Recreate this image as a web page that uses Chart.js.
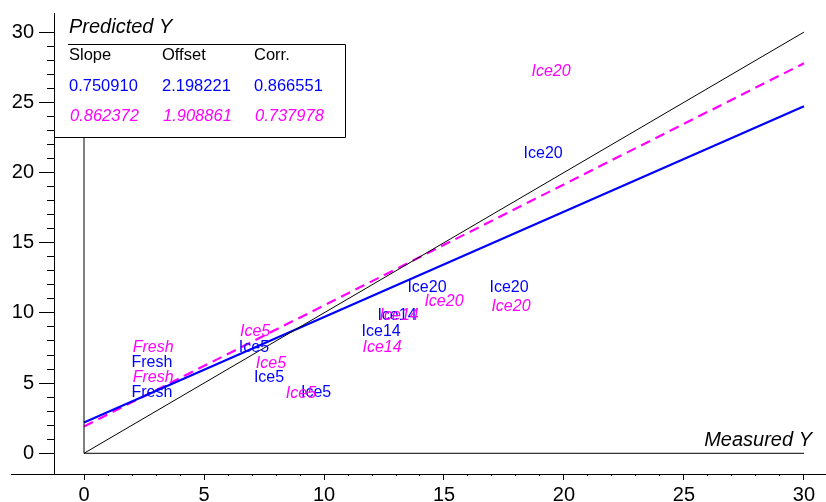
<!DOCTYPE html>
<html><head><meta charset="utf-8">
<script src="https://cdn.jsdelivr.net/npm/chart.js@4.4.0/dist/chart.umd.min.js"></script>
<style>html,body{margin:0;padding:0;background:#fff;}</style>
</head><body>
<canvas id="c" width="826" height="502"></canvas>
<script>
// ---- data ----
const blueLabels = ['Fresh','Fresh','Ice5','Ice5','Ice5','Ice14','Ice14','Ice20','Ice20','Ice20'];
const blueMeasured = [2.83, 2.83, 7.08, 7.71, 9.67, 13.04, 12.38, 14.29, 17.71, 19.13];
const bluePredicted = [6.57, 4.44, 7.64, 5.51, 4.44, 9.92, 8.78, 11.92, 11.92, 21.46];

const magentaLabels = ['Fresh','Fresh','Ice5','Ice5','Ice5','Ice14','Ice14','Ice20','Ice20','Ice20'];
const magentaMeasured = [2.88, 2.88, 7.13, 7.79, 9.04, 13.13, 12.42, 15.00, 17.79, 19.46];
const magentaPredicted = [7.71, 5.51, 8.78, 6.57, 4.37, 9.92, 7.64, 10.92, 10.63, 27.30];

const statHeaders = ['Slope', 'Offset', 'Corr.'];
const blueStats = [0.750910, 2.198221, 0.866551];
const magentaStats = [0.862372, 1.908861, 0.737978];

const xTickValues = [0, 5, 10, 15, 20, 25, 30];
const yTickValues = [0, 5, 10, 15, 20, 25, 30];
const xMinorTickValues = [0,1,2,3,4,5,6,7,8,9,10,11,12,13,14,15,16,17,18,19,20,21,22,23,24,25,26,27,28,29,30];
const yMinorTickValues = [0,1,2,3,4,5,6,7,8,9,10,11,12,13,14,15,16,17,18,19,20,21,22,23,24,25,26,27,28,29,30];
const lineRange = [0, 30];

// ---- layout ----
const X_MIN = -3.042, X_MAX = 30.917, Y_MIN = -1.474, Y_MAX = 31.36, Y_AXIS_AT = -1.2375, Y_LABELS_AT = -2.083;
const BLUE = '#0000ff', MAGENTA = '#ff00ff';
const FONT = "'Liberation Sans', Arial, sans-serif";

const pts = (xs, ys) => xs.map((x, i) => ({x: x, y: ys[i]}));
const fitLine = (s) => lineRange.map(x => ({x: x, y: s[0] * x + s[1]}));

const pointLabelPlugin = {
  id: 'pointLabelPlugin',
  afterDatasetsDraw(chart) {
    const ctx = chart.ctx;
    chart.data.datasets.forEach((ds, i) => {
      if (!ds.pointLabels) return;
      const meta = chart.getDatasetMeta(i);
      ctx.save();
      ctx.font = ds.labelFont;
      ctx.fillStyle = ds.labelColor;
      ctx.textAlign = 'center';
      ctx.textBaseline = 'middle';
      meta.data.forEach((el, j) => ctx.fillText(ds.pointLabels[j], el.x, el.y + 2));
      ctx.restore();
    });
  }
};

const boxPlugin = {
  id: 'boxPlugin',
  afterDraw(chart) {
    const ctx = chart.ctx;
    ctx.save();
    // axis titles
    ctx.fillStyle = '#000';
    ctx.font = 'italic 20px ' + FONT;
    ctx.textBaseline = 'middle';
    ctx.textAlign = 'left';
    ctx.fillText('Predicted Y', 69, 27);
    ctx.textAlign = 'right';
    ctx.fillText('Measured Y', 812, 440);
    // stats box
    const L = 55, T = 44, R = 345, B = 137;
    ctx.fillStyle = '#fff';
    ctx.fillRect(L, T, R - L, B - T);
    ctx.strokeStyle = '#000';
    ctx.lineWidth = 1;
    ctx.beginPath();
    ctx.moveTo(68, T + 0.5);
    ctx.lineTo(R + 0.5, T + 0.5);
    ctx.lineTo(R + 0.5, B + 0.5);
    ctx.lineTo(L, B + 0.5);
    ctx.stroke();
    const cols = [69, 162, 254];
    ctx.textAlign = 'left';
    ctx.font = '16.5px ' + FONT;
    ctx.fillStyle = '#000';
    statHeaders.forEach((h, i) => ctx.fillText(h, cols[i], 55));
    ctx.fillStyle = BLUE;
    blueStats.forEach((v, i) => ctx.fillText(v.toFixed(6), cols[i], 86));
    ctx.font = 'italic 16.5px ' + FONT;
    ctx.fillStyle = MAGENTA;
    magentaStats.forEach((v, i) => ctx.fillText(v.toFixed(6), cols[i] + 1, 116));
    ctx.restore();
  }
};

const tickFont = {family: FONT, size: 20};
const hiddenTicks = {display: false};

new Chart(document.getElementById('c'), {
  type: 'scatter',
  data: {
    datasets: [
      {data: [{x: 0, y: 0}, {x: 30, y: 30}], showLine: true, borderColor: '#000', borderWidth: 1, pointRadius: 0},
      {data: [{x: 0, y: 0}, {x: 30, y: 0}], showLine: true, borderColor: '#000', borderWidth: 1, pointRadius: 0},
      {data: [{x: 0, y: 0}, {x: 0, y: 25}], showLine: true, borderColor: '#000', borderWidth: 1, pointRadius: 0},
      {data: fitLine(blueStats), showLine: true, borderColor: BLUE, borderWidth: 2.2, pointRadius: 0},
      {data: fitLine(magentaStats), showLine: true, borderColor: MAGENTA, borderWidth: 2.2, borderDash: [10, 6], pointRadius: 0},
      {data: pts(blueMeasured, bluePredicted), pointRadius: 0, pointLabels: blueLabels, labelColor: BLUE, labelFont: '16px ' + FONT},
      {data: pts(magentaMeasured, magentaPredicted), pointRadius: 0, pointLabels: magentaLabels, labelColor: MAGENTA, labelFont: 'italic 16px ' + FONT}
    ]
  },
  options: {
    responsive: false,
    animation: false,
    events: [],
    layout: {padding: {left: 11, top: 13, right: 0, bottom: 28}},
    plugins: {legend: {display: false}, tooltip: {enabled: false}},
    scales: {
      x: {
        type: 'linear', axis: 'x', min: X_MIN, max: X_MAX, position: {y: Y_MIN},
        afterBuildTicks: s => { s.ticks = xTickValues.map(v => ({value: v})); },
        grid: {display: true, drawOnChartArea: false, drawTicks: true, tickLength: 5, tickColor: '#000', tickWidth: 1},
        border: {display: true, color: '#000', width: 1},
        ticks: {color: '#000', font: tickFont, padding: 4, maxRotation: 0, autoSkip: false, callback: v => String(v)}
      },
      xMinor: {
        type: 'linear', axis: 'x', min: X_MIN, max: X_MAX, position: {y: Y_MIN},
        afterBuildTicks: s => { s.ticks = xMinorTickValues.map(v => ({value: v})); },
        grid: {display: true, drawOnChartArea: false, drawTicks: true, tickLength: 2, tickColor: '#000', tickWidth: 1},
        border: {display: false},
        ticks: hiddenTicks
      },
      y: {
        type: 'linear', axis: 'y', min: Y_MIN, max: Y_MAX, position: {x: Y_LABELS_AT},
        afterBuildTicks: s => { s.ticks = yTickValues.map(v => ({value: v})); },
        grid: {display: false},
        border: {display: false},
        ticks: {color: '#000', font: tickFont, padding: 0, autoSkip: false, callback: v => String(v)}
      },
      yMajor: {
        type: 'linear', axis: 'y', min: Y_MIN, max: Y_MAX, position: {x: Y_AXIS_AT},
        afterBuildTicks: s => { s.ticks = yTickValues.map(v => ({value: v})); },
        grid: {display: true, drawOnChartArea: false, drawTicks: true, tickLength: 15, tickColor: '#000', tickWidth: 1},
        border: {display: true, color: '#000', width: 1},
        ticks: hiddenTicks
      },
      yMinor: {
        type: 'linear', axis: 'y', min: Y_MIN, max: Y_MAX, position: {x: Y_AXIS_AT},
        afterBuildTicks: s => { s.ticks = yMinorTickValues.map(v => ({value: v})); },
        grid: {display: true, drawOnChartArea: false, drawTicks: true, tickLength: 7, tickColor: '#000', tickWidth: 1},
        border: {display: false},
        ticks: hiddenTicks
      }
    }
  },
  plugins: [pointLabelPlugin, boxPlugin]
});
</script>
</body></html>
